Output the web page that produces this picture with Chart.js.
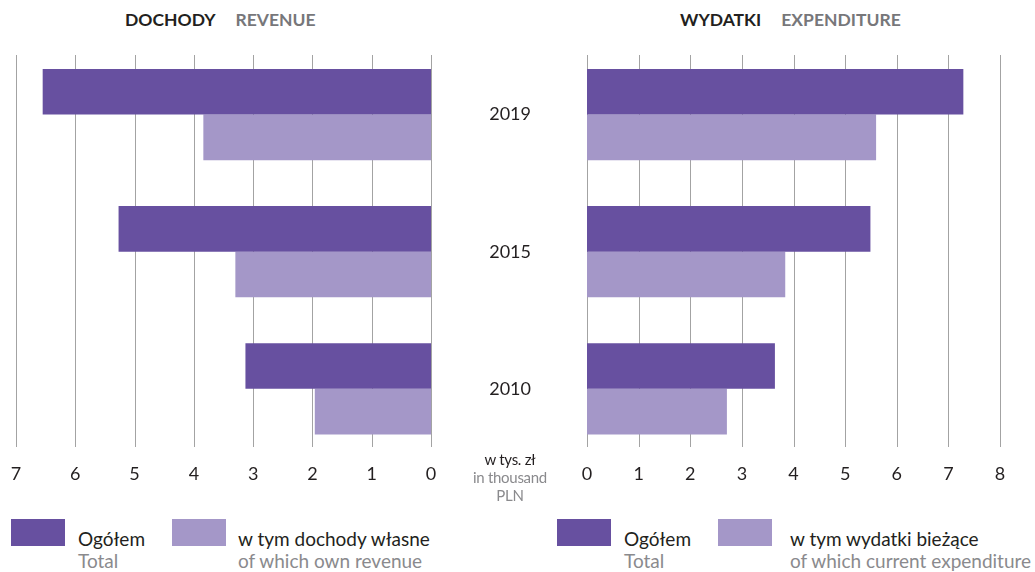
<!DOCTYPE html>
<html>
<head>
<meta charset="utf-8">
<script src="https://cdn.jsdelivr.net/npm/chart.js@4"></script>
<style>
    body { margin: 0; background: #ffffff; font-family: Lato, "Open Sans", sans-serif; }
    #wrap { position: relative; width: 1035px; height: 572px; overflow: hidden; }
    canvas { position: absolute; top: 0; }
    .title { position: absolute; top: 9px; font-size: 17.5px; font-weight: bold; white-space: nowrap; }
    .title .pl { color: #231f20; margin-right: 20px; }
    .title .en { color: #77777a; }
    .unit { position: absolute; left: 455px; width: 110px; top: 450px; text-align: center; font-size: 15px; line-height: 18px; color: #8a8a8d; letter-spacing: -0.3px; }
    .unit .pl { color: #231f20; }
    .legend { position: absolute; top: 519px; }
    .box { position: absolute; top: 0; width: 54px; height: 27px; }
    .ltext { position: absolute; top: 9px; white-space: nowrap; font-size: 19px; line-height: 22px; }
    .ltext .pl { color: #231f20; display: block; }
    .ltext .en { color: #8a8a8d; display: block; }
</style>
</head>
<body>
<div id="wrap">
    <div class="title" style="left:125px"><span class="pl">DOCHODY</span><span class="en">REVENUE</span></div>
    <div class="title" style="left:680px"><span class="pl">WYDATKI</span><span class="en">EXPENDITURE</span></div>
    <canvas id="revenueChart" width="531" height="496" style="left:0"></canvas>
    <canvas id="expenditureChart" width="475" height="496" style="left:560px"></canvas>
    <div class="unit"><span class="pl">w tys. zł</span><br>in thousand<br>PLN</div>
    <div id="legendLeft" class="legend" style="left:11px"></div>
    <div id="legendRight" class="legend" style="left:557px"></div>
</div>
<script>
const years = ['2019', '2015', '2010'];
const revenueTotal = [6.55, 5.27, 3.13];
const revenueOwn = [3.84, 3.30, 1.96];
const expenditureTotal = [7.29, 5.49, 3.64];
const expenditureCurrent = [5.60, 3.84, 2.71];

const revenueLabels = [['Ogółem', 'Total'], ['w tym dochody własne', 'of which own revenue']];
const expenditureLabels = [['Ogółem', 'Total'], ['w tym wydatki bieżące', 'of which current expenditure']];

const darkPurple = '#6750a0';
const lightPurple = '#a497c8';

// vertical gridlines, a bit shorter than the plot area
const gridPlugin = {
    id: 'shortGrid',
    beforeDatasetsDraw(chart) {
        const ctx = chart.ctx;
        const x = chart.scales.x;
        ctx.save();
        ctx.strokeStyle = '#a3a3a3';
        ctx.lineWidth = 1;
        x.ticks.forEach(t => {
            const px = Math.round(x.getPixelForValue(t.value)) + 0.5;
            ctx.beginPath();
            ctx.moveTo(px, 55);
            ctx.lineTo(px, 447);
            ctx.stroke();
        });
        ctx.restore();
    }
};

function makeChart(id, totals, parts, max, reverse, showYears, padding) {
    const ctx = document.getElementById(id).getContext('2d');
    const yAxis = {
        display: showYears,
        position: 'right',
        ticks: {
            padding: 0,
            crossAlign: 'far',
            color: '#231f20',
            font: { family: 'Lato', size: 18 }
        },
        grid: { display: false, drawTicks: false },
        border: { display: false }
    };
    if (showYears) {
        // year labels sit in the gap between the two panels
        yAxis.afterFit = scale => { scale.width = 100; };
    }
    return new Chart(ctx, {
        type: 'bar',
        data: {
            labels: years,
            datasets: [
                { data: totals, backgroundColor: darkPurple, categoryPercentage: 0.665, barPercentage: 1.0 },
                { data: parts, backgroundColor: lightPurple, categoryPercentage: 0.665, barPercentage: 1.0 }
            ]
        },
        options: {
            indexAxis: 'y',
            responsive: false,
            animation: false,
            layout: { padding: padding },
            scales: {
                x: {
                    min: 0,
                    max: max,
                    reverse: reverse,
                    ticks: {
                        stepSize: 1,
                        padding: 6,
                        color: '#231f20',
                        font: { family: 'Lato', size: 18 }
                    },
                    grid: { display: false, drawTicks: false },
                    border: { display: false }
                },
                y: yAxis
            },
            plugins: {
                legend: { display: false },
                tooltip: { enabled: false }
            }
        },
        plugins: [gridPlugin]
    });
}

function makeLegend(id, labels, textOffsets) {
    const el = document.getElementById(id);
    const colors = [darkPurple, lightPurple];
    labels.forEach((lab, i) => {
        const box = document.createElement('div');
        box.className = 'box';
        box.style.left = textOffsets[i][0] + 'px';
        box.style.background = colors[i];
        el.appendChild(box);
        const txt = document.createElement('div');
        txt.className = 'ltext';
        txt.style.left = textOffsets[i][1] + 'px';
        txt.innerHTML = '<span class="pl">' + lab[0] + '</span><span class="en">' + lab[1] + '</span>';
        el.appendChild(txt);
    });
}

makeChart('revenueChart', revenueTotal, revenueOwn, 7, true, true, { top: 46, bottom: 5, left: 16, right: 0 });
makeChart('expenditureChart', expenditureTotal, expenditureCurrent, 8, false, false, { top: 46, bottom: 5, left: 27, right: 35 });
makeLegend('legendLeft', revenueLabels, [[0, 67], [161, 227]]);
makeLegend('legendRight', expenditureLabels, [[0, 67], [161, 233]]);
</script>
</body>
</html>
